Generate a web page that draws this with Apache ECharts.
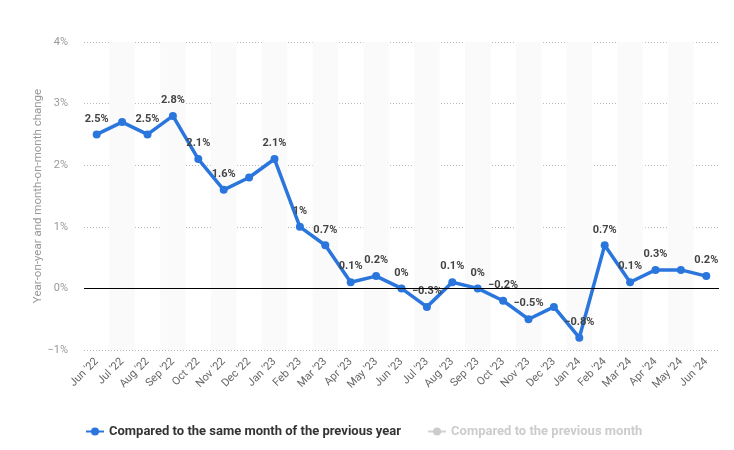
<!DOCTYPE html>
<html>
<head>
<meta charset="utf-8">
<script src="https://cdn.jsdelivr.net/npm/echarts@6/dist/echarts.min.js"></script>
<style>html,body{margin:0;padding:0;background:#fff}#c{width:734px;height:450px}</style>
</head>
<body>
<div id="c"></div>
<script>
const categories = ["Jun '22","Jul '22","Aug '22","Sep '22","Oct '22","Nov '22","Dec '22","Jan '23","Feb '23","Mar '23","Apr '23","May '23","Jun '23","Jul '23","Aug '23","Sep '23","Oct '23","Nov '23","Dec '23","Jan '24","Feb '24","Mar '24","Apr '24","May '24","Jun '24"];
const yoyValues = [2.5, 2.7, 2.5, 2.8, 2.1, 1.6, 1.8, 2.1, 1.0, 0.7, 0.1, 0.2, 0, -0.3, 0.1, 0, -0.2, -0.5, -0.3, -0.8, 0.7, 0.1, 0.3, 0.3, 0.2];
const showLabel = [1,0,1,1,1,1,0,1,1,1,1,1,1,1,1,1,1,1,0,1,1,1,1,0,1];
const momValues = [];
const seriesNames = ["Compared to the same month of the previous year", "Compared to the previous month"];
const yAxisName = "Year-on-year and month-on-month change";

const fmtPct = v => (String(v).replace('-', '\u2212')) + '%';
const font = 'Roboto, "Open Sans", sans-serif';

const chart = echarts.init(document.getElementById('c'));
chart.setOption({
  animation: false,
  grid: { left: 84, right: 15, top: 42, bottom: 100 },
  graphic: [{
    type: 'text', x: 38, y: 196, rotation: Math.PI / 2,
    style: { text: yAxisName, fill: '#999', fontSize: 11.5, fontFamily: font, align: 'center', verticalAlign: 'middle' }
  }],
  legend: {
    left: 80, bottom: 7, itemGap: 26, itemWidth: 18, itemHeight: 10,
    selected: { [seriesNames[1]]: false },
    inactiveColor: '#cccccc', inactiveBorderColor: '#cccccc',
    textStyle: { fontFamily: font, fontSize: 13, fontWeight: 'bold', color: '#333' }
  },
  xAxis: {
    type: 'category', data: categories, boundaryGap: true,
    axisLine: { show: false }, axisTick: { show: false },
    axisLabel: { rotate: 45, color: '#666', fontSize: 11, fontFamily: font, margin: 10, interval: 0 },
    splitArea: { show: true, interval: 0, areaStyle: { color: ['rgba(0,0,0,0)', '#fafafa'] } }
  },
  yAxis: {
    type: 'value', min: -1, max: 4, interval: 1,
    axisLine: { show: false }, axisTick: { show: false },
    axisLabel: { color: '#999', fontSize: 11, fontFamily: font, margin: 16, formatter: v => fmtPct(v) },
    splitLine: { lineStyle: { color: '#bbb', type: [1, 2], width: 1 } }
  },
  series: [
    {
      name: seriesNames[0], type: 'line', color: '#2a76dd',
      data: yoyValues.map((v, i) => ({ value: v, label: { show: !!showLabel[i] } })),
      symbol: 'circle', symbolSize: 8,
      lineStyle: { width: 3.5 },
      label: { show: true, position: 'top', distance: 6, color: '#444', fontSize: 11, fontWeight: 'bold', fontFamily: font, formatter: p => fmtPct(p.value) },
      markLine: {
        silent: true, symbol: 'none', label: { show: false },
        lineStyle: { color: '#000', type: 'solid', width: 1 },
        data: [{ yAxis: 0 }]
      },
      z: 3
    },
    {
      name: seriesNames[1], type: 'line', color: '#cccccc',
      data: momValues, symbol: 'circle', symbolSize: 8, lineStyle: { width: 3.5 }
    }
  ]
});
</script>
</body>
</html>
